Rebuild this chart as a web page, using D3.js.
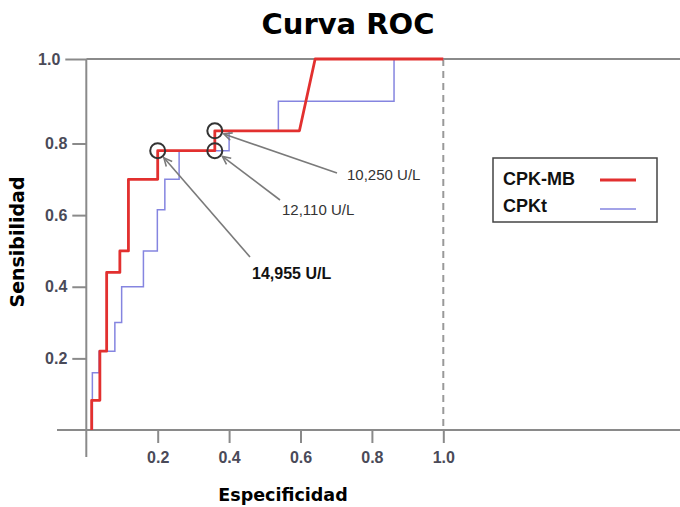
<!DOCTYPE html>
<html>
<head>
<meta charset="utf-8">
<script src="https://cdn.jsdelivr.net/npm/d3@7"></script>
<style>
  body { margin: 0; background: #fff; }
  svg { display: block; }
</style>
</head>
<body>
<div id="chart"></div>
<script>
// ROC curve vertices (1 - especificidad, sensibilidad)
const mbX = [0.015, 0.015, 0.038, 0.038, 0.057, 0.057, 0.094, 0.094, 0.118, 0.118, 0.2, 0.2, 0.36, 0.36, 0.597, 0.641, 1.0];
const mbY = [0, 0.083, 0.083, 0.22, 0.22, 0.44, 0.44, 0.50, 0.50, 0.70, 0.70, 0.78, 0.78, 0.83, 0.83, 1.0, 1.0];

const ktX = [0.017, 0.017, 0.036, 0.036, 0.080, 0.080, 0.099, 0.099, 0.160, 0.160, 0.199, 0.199, 0.220, 0.220, 0.260, 0.260, 0.40, 0.40, 0.538, 0.538, 0.862, 0.862, 1.0];
const ktY = [0, 0.16, 0.16, 0.22, 0.22, 0.30, 0.30, 0.40, 0.40, 0.50, 0.50, 0.615, 0.615, 0.70, 0.70, 0.78, 0.78, 0.83, 0.83, 0.90, 0.90, 1.0, 1.0];

// cut-off points marked on the curve
const cutLabels = ["14,955 U/L", "12,110 U/L", "10,250 U/L"];
const cutX = [0.2, 0.36, 0.36];
const cutY = [0.78, 0.78, 0.83];

const seriesNames = ["CPK-MB", "CPKt"];
const xTicks = [0.2, 0.4, 0.6, 0.8, 1.0];
const yTicks = [0.2, 0.4, 0.6, 0.8, 1.0];

const width = 680, height = 507;
const red = "#e2302f", blue = "#8585e0";

const x = d3.scaleLinear().domain([0, 1]).range([86.3, 443.3]);
// the original y axis is not evenly spaced above 0.8
const y = d3.scaleLinear().domain([0, 0.8, 1]).range([430, 143.5, 59]);

const svg = d3.select("#chart").append("svg")
    .attr("width", width)
    .attr("height", height)
    .attr("viewBox", [0, 0, width, height]);

// title
svg.append("text")
    .attr("x", 348)
    .attr("y", 34)
    .attr("text-anchor", "middle")
    .attr("font-family", "DejaVu Sans, sans-serif")
    .attr("font-weight", "bold")
    .attr("font-size", 29)
    .attr("fill", "#000")
    .text("Curva ROC");

const axisColor = "#8a8a8a";

// x axis
svg.append("g")
    .attr("transform", `translate(0,${y(0)})`)
    .call(d3.axisBottom(x).tickValues(xTicks).tickSize(13).tickPadding(9).tickFormat(d3.format(".1f")))
    .call(g => g.select(".domain").remove())
    .call(g => g.selectAll(".tick line").attr("stroke", axisColor).attr("stroke-width", 2))
    .call(g => g.selectAll(".tick text")
        .attr("font-family", "Liberation Sans, Arial, sans-serif")
        .attr("font-weight", "bold")
        .attr("font-size", 16)
        .attr("fill", "#4a4a58"));

// y axis
svg.append("g")
    .attr("transform", `translate(${x(0)},0)`)
    .call(d3.axisLeft(y).tickValues(yTicks).tickSize(14).tickPadding(5).tickFormat(d3.format(".1f")))
    .call(g => g.select(".domain").remove())
    .call(g => g.selectAll(".tick line").attr("stroke", axisColor).attr("stroke-width", 2))
    .call(g => g.selectAll(".tick text")
        .attr("font-family", "Liberation Sans, Arial, sans-serif")
        .attr("font-weight", "bold")
        .attr("font-size", 16)
        .attr("fill", "#4a4a58"))
    .call(g => g.selectAll(".tick").filter(d => d === 1)
        .call(t => t.select("line").attr("x2", -21))
        .call(t => t.select("text").attr("x", -26)));

// frame lines
svg.append("line")
    .attr("x1", 57).attr("x2", width)
    .attr("y1", y(0)).attr("y2", y(0))
    .attr("stroke", axisColor).attr("stroke-width", 2);
svg.append("line")
    .attr("x1", x(0)).attr("x2", width)
    .attr("y1", y(1)).attr("y2", y(1))
    .attr("stroke", axisColor).attr("stroke-width", 2);
svg.append("line")
    .attr("x1", x(0)).attr("x2", x(0))
    .attr("y1", y(1)).attr("y2", 457)
    .attr("stroke", axisColor).attr("stroke-width", 2);
svg.append("line")
    .attr("x1", x(1)).attr("x2", x(1))
    .attr("y1", y(1)).attr("y2", y(0))
    .attr("stroke", "#999")
    .attr("stroke-width", 2)
    .attr("stroke-dasharray", "7,5");

// axis titles
svg.append("text")
    .attr("x", 283)
    .attr("y", 501)
    .attr("text-anchor", "middle")
    .attr("font-family", "DejaVu Sans, sans-serif")
    .attr("font-weight", "bold")
    .attr("font-size", 17.5)
    .text("Especificidad");

svg.append("text")
    .attr("transform", `translate(24,242) rotate(-90)`)
    .attr("text-anchor", "middle")
    .attr("font-family", "DejaVu Sans, sans-serif")
    .attr("font-weight", "bold")
    .attr("font-size", 19)
    .text("Sensibilidad");

// curves
const line = d3.line().x(d => x(d[0])).y(d => y(d[1]));

svg.append("path")
    .datum(d3.zip(ktX, ktY))
    .attr("fill", "none")
    .attr("stroke", blue)
    .attr("stroke-width", 1.5)
    .attr("d", line);

svg.append("path")
    .datum(d3.zip(mbX, mbY))
    .attr("fill", "none")
    .attr("stroke", red)
    .attr("stroke-width", 2.8)
    .attr("stroke-linejoin", "round")
    .attr("d", line);

// cut-off annotations
const labelPos = [[252, 279], [282, 215], [347, 180]];
const tailPos = [[250, 257], [280, 200], [337, 173]];
const labelBold = [true, false, false];
const r = 7.5;

cutLabels.forEach((lab, i) => {
    const cx = x(cutX[i]), cy = y(cutY[i]);
    const [tx, ty] = tailPos[i];
    const dx = tx - cx, dy = ty - cy, len = Math.hypot(dx, dy);
    const ux = dx / len, uy = dy / len;
    const hx = cx + ux * (r + 2), hy = cy + uy * (r + 2);

    svg.append("circle")
        .attr("cx", cx).attr("cy", cy).attr("r", r)
        .attr("fill", "none")
        .attr("stroke", "#333")
        .attr("stroke-width", 2);

    svg.append("line")
        .attr("x1", hx).attr("y1", hy)
        .attr("x2", tx).attr("y2", ty)
        .attr("stroke", "#7a7a7a")
        .attr("stroke-width", 1.6);

    // open arrow head
    const a = Math.atan2(uy, ux), h = 9, s = 0.45;
    const p1 = [hx + h * Math.cos(a + s), hy + h * Math.sin(a + s)];
    const p2 = [hx + h * Math.cos(a - s), hy + h * Math.sin(a - s)];
    svg.append("path")
        .attr("d", `M${p1}L${hx},${hy}L${p2}`)
        .attr("fill", "none")
        .attr("stroke", "#7a7a7a")
        .attr("stroke-width", 1.6);

    svg.append("text")
        .attr("x", labelPos[i][0])
        .attr("y", labelPos[i][1])
        .attr("font-family", "Liberation Sans, Arial, sans-serif")
        .attr("font-weight", labelBold[i] ? "bold" : "normal")
        .attr("font-size", labelBold[i] ? 16 : 15)
        .attr("fill", labelBold[i] ? "#111" : "#333")
        .text(lab);
});

// legend
const legend = svg.append("g");
legend.append("rect")
    .attr("x", 493).attr("y", 158)
    .attr("width", 164).attr("height", 64)
    .attr("fill", "#fff")
    .attr("stroke", "#444")
    .attr("stroke-width", 1.5);

const legendColors = [red, blue];
const legendWidths = [2.8, 1.5];
seriesNames.forEach((name, i) => {
    legend.append("text")
        .attr("x", 503)
        .attr("y", 185 + i * 27)
        .attr("font-family", "Liberation Sans, Arial, sans-serif")
        .attr("font-weight", "bold")
        .attr("font-size", 18)
        .attr("fill", "#111")
        .text(name);
    legend.append("line")
        .attr("x1", 600).attr("x2", 636)
        .attr("y1", 180 + i * 29).attr("y2", 180 + i * 29)
        .attr("stroke", legendColors[i])
        .attr("stroke-width", legendWidths[i]);
});
</script>
</body>
</html>
